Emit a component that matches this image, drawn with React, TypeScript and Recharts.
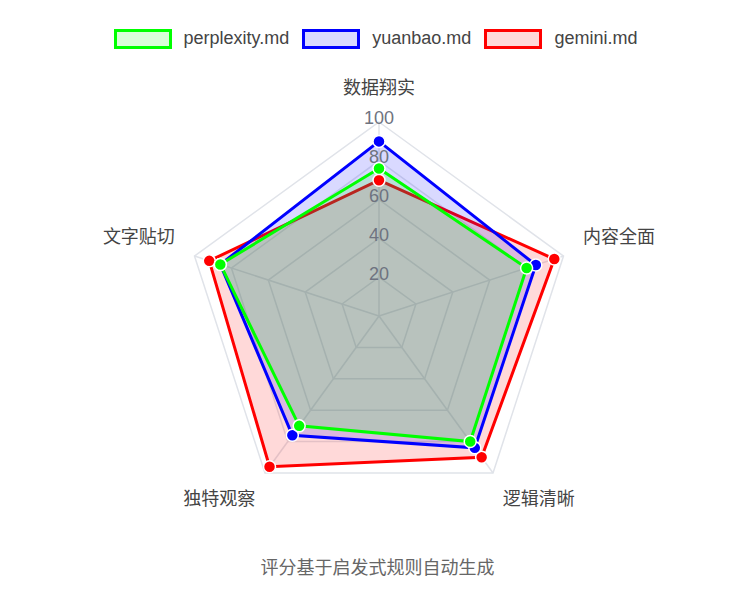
import React from "react";
import { RadarChart, Radar, PolarGrid, PolarAngleAxis, PolarRadiusAxis } from "recharts";

const categories = ["数据翔实", "内容全面", "逻辑清晰", "独特观察", "文字贴切"];
const perplexityScores = [76, 80, 80, 70, 86];
const yuanbaoScores = [90, 85, 84, 76, 86];
const geminiScores = [70, 95, 90, 96, 92];
const radiusTicks = [0, 20, 40, 60, 80, 100];

const SERIES = [
  { key: "perplexity", name: "perplexity.md", color: "#00ff00" },
  { key: "yuanbao", name: "yuanbao.md", color: "#0000ff" },
  { key: "gemini", name: "gemini.md", color: "#ff0000" },
];

const FONT = '"Liberation Sans", Arial, "Noto Sans CJK SC", sans-serif';
const CX = 379;
const CY = 316;

const data = categories.map((c, i) => ({
  subject: c,
  perplexity: perplexityScores[i],
  yuanbao: yuanbaoScores[i],
  gemini: geminiScores[i],
}));

const hexToRgba = (hex: string, a: number) => {
  const n = parseInt(hex.slice(1), 16);
  return `rgba(${(n >> 16) & 255},${(n >> 8) & 255},${n & 255},${a})`;
};

const AngleTick = (props: any) => {
  const { x, y, payload, textAnchor } = props;
  let dx = 0;
  let dy = 0;
  if (textAnchor === "middle") {
    dy = -26;
  } else if (y < CY) {
    dx = textAnchor === "start" ? 12 : -12;
    dy = -17;
  } else {
    dx = textAnchor === "start" ? 5 : -5;
    dy = 19;
  }
  return (
    <text
      x={x + dx}
      y={y + dy}
      dy="0.35em"
      textAnchor={textAnchor}
      fill="#444"
      fontSize={18}
      fontFamily={FONT}
    >
      {payload.value}
    </text>
  );
};

const RadiusTick = (props: any) => {
  const { x, y, payload } = props;
  if (payload.value === 0) return null;
  return (
    <text
      x={x}
      y={y - 4}
      dy="0.35em"
      textAnchor="middle"
      fill="#6e7380"
      fontSize={18}
      fontFamily={FONT}
    >
      {payload.value}
    </text>
  );
};

const LegendRow = () => (
  <div
    style={{
      position: "absolute",
      top: 28,
      left: 2,
      width: 747,
      display: "flex",
      justifyContent: "center",
      alignItems: "center",
      fontFamily: FONT,
      fontSize: 18,
      color: "#444",
    }}
  >
    {SERIES.map((s, i) => (
      <div key={s.key} style={{ display: "flex", alignItems: "center", marginLeft: i === 0 ? 0 : 13 }}>
        <div
          style={{
            width: 58,
            height: 20,
            boxSizing: "border-box",
            border: `3px solid ${s.color}`,
            background: hexToRgba(s.color, 0.15),
            marginRight: 12,
          }}
        />
        <span>{s.name}</span>
      </div>
    ))}
  </div>
);

// draw order: gemini under, perplexity on top (matches the blended fill colour)
const drawOrder = [...SERIES].reverse();

export default function App() {
  return (
    <div style={{ position: "absolute", left: 0, top: 0, width: 747, height: 603, background: "#fff" }}>
      <LegendRow />
      <RadarChart
        width={747}
        height={603}
        cx={CX}
        cy={CY}
        outerRadius={194}
        data={data}
        margin={{ top: 0, right: 0, bottom: 0, left: 0 }}
      >
        <PolarGrid gridType="polygon" stroke="#e0e3e9" strokeWidth={1.5} />
        <PolarAngleAxis dataKey="subject" tick={AngleTick} tickLine={false} axisLine={false} />
        {drawOrder.map((s) => (
          <Radar
            key={s.key}
            name={s.name}
            dataKey={s.key}
            stroke={s.color}
            strokeWidth={3}
            fill={s.color}
            fillOpacity={0.15}
            dot={{ r: 6, fill: s.color, stroke: "#fff", strokeWidth: 1.5, fillOpacity: 1 }}
            isAnimationActive={false}
          />
        ))}
        <PolarRadiusAxis
          angle={90}
          domain={[0, 100]}
          ticks={radiusTicks as any}
          tickCount={6}
          tick={RadiusTick}
          axisLine={false}
          tickLine={false}
        />
      </RadarChart>
      <div
        style={{
          position: "absolute",
          top: 553,
          left: 4,
          width: 747,
          textAlign: "center",
          fontFamily: FONT,
          fontSize: 18,
          color: "#666",
        }}
      >
        评分基于启发式规则自动生成
      </div>
    </div>
  );
}
